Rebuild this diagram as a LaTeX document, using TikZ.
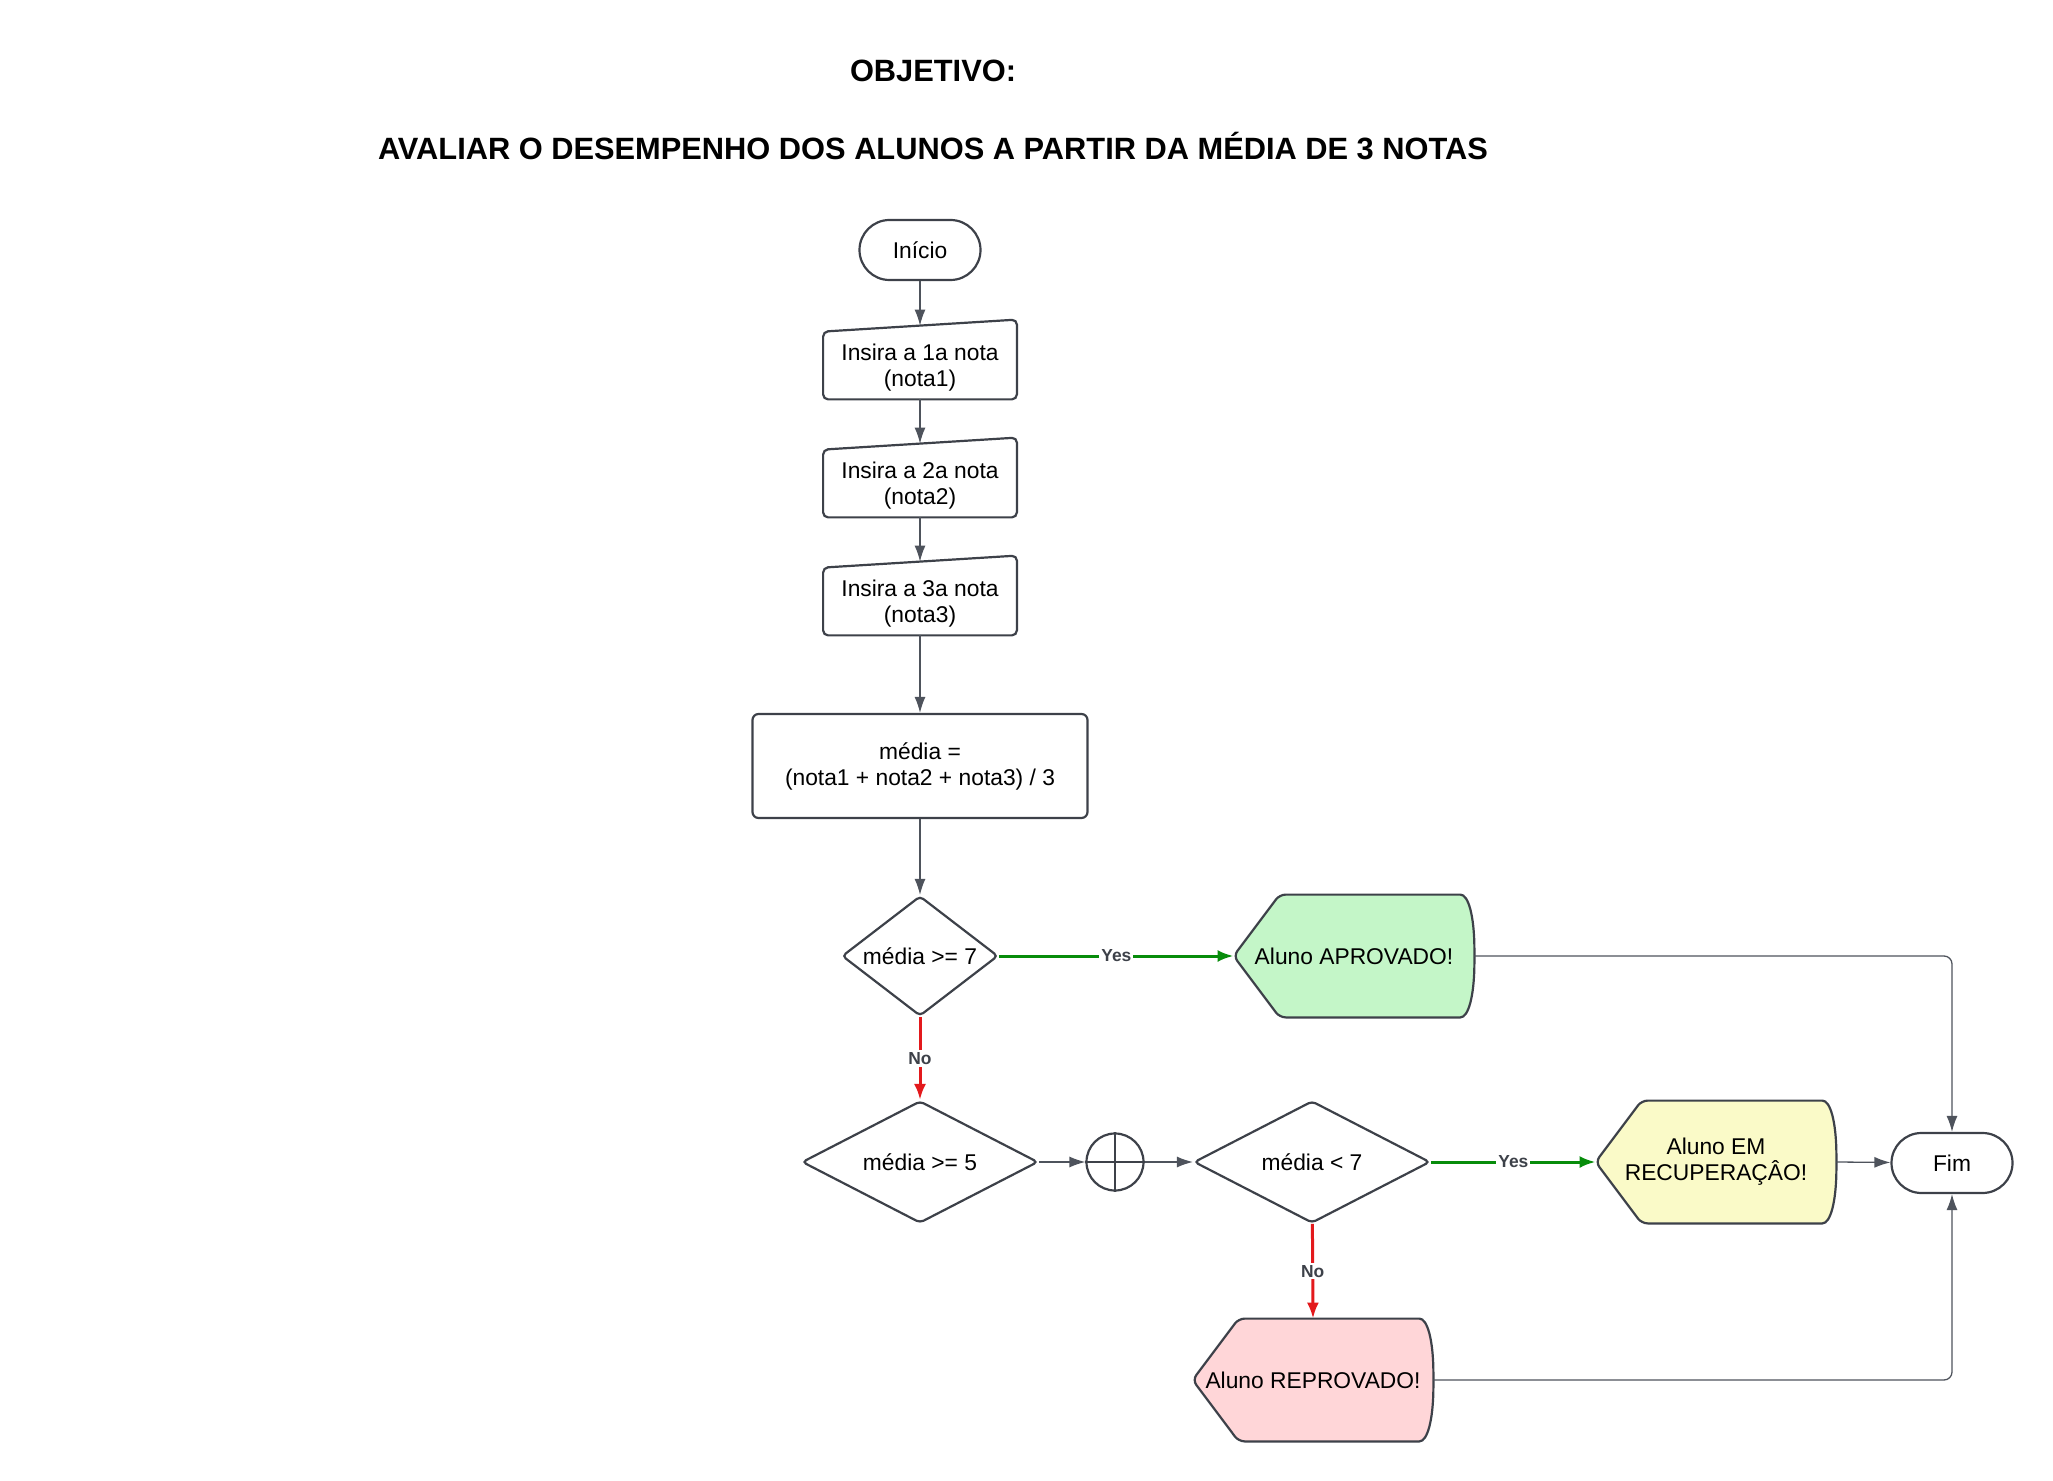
\documentclass[tikz,border=0pt]{standalone}
\usepackage{fontspec}
\setmainfont{Liberation Sans}
\usetikzlibrary{arrows.meta, shapes.geometric, backgrounds}
\definecolor{edgegray}{HTML}{3D4149}
\definecolor{linegray}{HTML}{4E535C}
\definecolor{yesgreen}{HTML}{078C0B}
\definecolor{nored}{HTML}{E3191C}
\definecolor{aprovfill}{HTML}{C4F6C8}
\definecolor{recupfill}{HTML}{FAFAC8}
\definecolor{reprovfill}{HTML}{FFD6D8}
\tikzset{
	every node/.style={font=\fontsize{11.4pt}{13pt}\selectfont, align=center},
	edge/.style={draw=edgegray, line width=1.1pt},
	terminal/.style={edge, rectangle, rounded corners=15pt, minimum width=60.5pt, minimum height=30pt},
	inbox/.style={rectangle, minimum width=96.5pt, minimum height=31pt, inner sep=0pt},
	procbox/.style={edge, rectangle, rounded corners=3pt, minimum width=167.5pt, minimum height=52pt},
	decision/.style={edge, diamond, rounded corners=2pt, inner sep=0pt, fill=white},
	dispbox/.style={rectangle, minimum width=120pt, minimum height=61pt, inner sep=0pt},
	flow/.style={draw=linegray, line width=0.65pt, -{Latex[length=8pt, width=5.5pt]}},
	yes/.style={draw=yesgreen, line width=1.5pt, -{Latex[length=8pt, width=6pt]}},
	no/.style={draw=nored, line width=1.5pt, -{Latex[length=8pt, width=6pt]}},
	lbl/.style={font=\fontsize{8.7pt}{10pt}\selectfont\bfseries, text=edgegray, fill=white, inner sep=1pt}
}
\begin{document}
\begin{tikzpicture}[x=0.5pt, y=-0.5pt]
		\useasboundingbox (0,0) rectangle (2053,1481);

		\node[font=\fontsize{15.4pt}{18pt}\selectfont\bfseries] (objetivo) at (933, 71) {OBJETIVO:};
		\node[font=\fontsize{15.4pt}{18pt}\selectfont\bfseries] (avaliar) at (933, 146) {AVALIAR O DESEMPENHO DOS ALUNOS A PARTIR DA MÉDIA DE 3 NOTAS};

		\node[terminal] (inicio) at (920, 250) {Início};
		\node[inbox] (nota1) at (920, 368) {Insira a 1a nota\\(nota1)};
		\node[inbox] (nota2) at (920, 486) {Insira a 2a nota\\(nota2)};
		\node[inbox] (nota3) at (920, 604) {Insira a 3a nota\\(nota3)};
		\node[procbox] (media) at (920, 766) {média =\\(nota1 + nota2 + nota3) / 3};

		\node[decision, aspect=1.3, minimum width=78pt, minimum height=60pt] (maior7) at (920, 956) {média >= 7};
		\node[dispbox] (aprov) at (1354, 956) {Aluno APROVADO!};
		\node[decision, aspect=2, minimum width=118pt, minimum height=61pt] (maior5) at (920, 1162) {média >= 5};
		\node[edge, circle, minimum size=28.5pt, inner sep=0pt] (juncao) at (1115, 1162) {};
		\node[decision, aspect=2, minimum width=118pt, minimum height=61pt] (menor7) at (1312, 1162) {média < 7};
		\node[dispbox] (recup) at (1716, 1162) {Aluno EM\\RECUPERAÇÂO!};
		\node[terminal] (fim) at (1952, 1163) {Fim};
		\node[dispbox] (reprov) at (1313, 1380) {Aluno REPROVADO!};

		\begin{scope}[on background layer]
			\foreach \n in {nota1, nota2, nota3}
				\draw[edge, rounded corners=2.5pt, fill=white] (\n.south west) -- ([yshift=2.5pt]\n.north west) -- ([yshift=8.5pt]\n.north east) -- (\n.south east) -- cycle;
			\foreach \n/\c in {aprov/aprovfill, recup/recupfill, reprov/reprovfill}
				\draw[edge, rounded corners=3pt, fill=\c] (\n.west) -- ([xshift=23pt]\n.north west) -- ([xshift=-10pt]\n.north east) .. controls ([xshift=-3pt]\n.north east) and ([yshift=20pt]\n.east) .. (\n.east) .. controls ([yshift=-20pt]\n.east) and ([xshift=-3pt]\n.south east) .. ([xshift=-10pt]\n.south east) -- ([xshift=23pt]\n.south west) -- cycle;
		\end{scope}

		\draw[edge] (juncao.north) -- (juncao.south);
		\draw[edge] (juncao.west) -- (juncao.east);

		\draw[flow] (inicio) -- ([yshift=5.5pt]nota1.north);
		\draw[flow] (nota1) -- ([yshift=5.5pt]nota2.north);
		\draw[flow] (nota2) -- ([yshift=5.5pt]nota3.north);
		\draw[flow] (nota3) -- (media);
		\draw[flow] (media) -- (maior7);

		\draw[yes] (maior7) -- node[lbl] {Yes} (aprov.west);
		\draw[no] (maior7) -- node[lbl] {No} (maior5);
		\draw[flow] (maior5) -- (juncao);
		\draw[flow] (juncao) -- (menor7);
		\draw[yes] (menor7) -- node[lbl] {Yes} (recup.west);
		\draw[no] (menor7) -- node[lbl] {No} (reprov.north);
		\draw[flow] (recup.east) -- (fim);

		\draw[flow, rounded corners=4pt] (aprov.east) -| (fim.north);
		\draw[flow, rounded corners=4pt] (reprov.east) -| (fim.south);
	\end{tikzpicture}
\end{document}
